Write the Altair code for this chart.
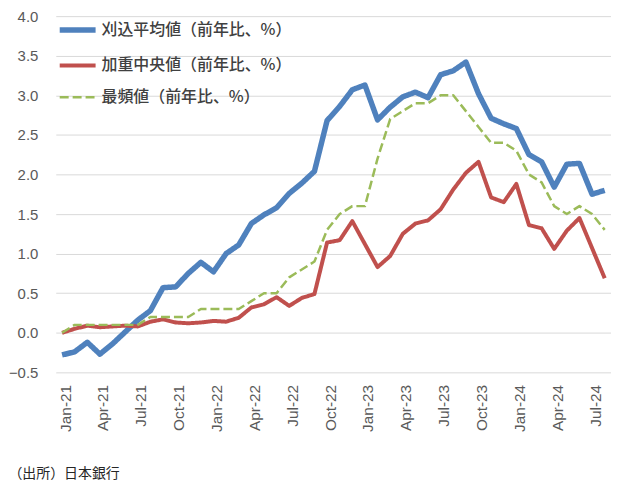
import altair as alt
import pandas as pd

months = [
    "Jan-21", "Feb-21", "Mar-21", "Apr-21", "May-21", "Jun-21", "Jul-21", "Aug-21", "Sep-21", "Oct-21", "Nov-21", "Dec-21",
    "Jan-22", "Feb-22", "Mar-22", "Apr-22", "May-22", "Jun-22", "Jul-22", "Aug-22", "Sep-22", "Oct-22", "Nov-22", "Dec-22",
    "Jan-23", "Feb-23", "Mar-23", "Apr-23", "May-23", "Jun-23", "Jul-23", "Aug-23", "Sep-23", "Oct-23", "Nov-23", "Dec-23",
    "Jan-24", "Feb-24", "Mar-24", "Apr-24", "May-24", "Jun-24", "Jul-24", "Aug-24",
]

trimmed_mean = [
    -0.28, -0.24, -0.12, -0.27, -0.14, 0.01, 0.16, 0.28, 0.57, 0.58, 0.75, 0.89,
    0.77, 1.00, 1.11, 1.38, 1.49, 1.58, 1.76, 1.89, 2.04, 2.68, 2.86, 3.07,
    3.13, 2.69, 2.85, 2.98, 3.04, 2.97, 3.26, 3.31, 3.42, 3.02, 2.71, 2.64,
    2.58, 2.25, 2.16, 1.84, 2.13, 2.14, 1.75, 1.80,
]

weighted_median = [
    0.00, 0.05, 0.09, 0.07, 0.08, 0.09, 0.08, 0.14, 0.17, 0.13, 0.12, 0.13,
    0.15, 0.14, 0.19, 0.32, 0.36, 0.45, 0.34, 0.44, 0.49, 1.14, 1.17, 1.41,
    1.12, 0.83, 0.97, 1.25, 1.38, 1.42, 1.56, 1.81, 2.02, 2.16, 1.71, 1.65,
    1.88, 1.36, 1.32, 1.06, 1.29, 1.45, 1.07, 0.69,
]

mode_value = [
    0.0, 0.1, 0.1, 0.1, 0.1, 0.1, 0.1, 0.2, 0.2, 0.2, 0.2, 0.3,
    0.3, 0.3, 0.3, 0.4, 0.5, 0.5, 0.7, 0.8, 0.9, 1.3, 1.5, 1.6,
    1.6, 2.2, 2.7, 2.8, 2.9, 2.9, 3.0, 3.0, 2.8, 2.6, 2.4, 2.4,
    2.3, 2.0, 1.9, 1.6, 1.5, 1.6, 1.5, 1.3,
]

series_names = ["刈込平均値（前年比、%）", "加重中央値（前年比、%）", "最頻値（前年比、%）"]
series_colors = ["#4F81BD", "#C0504D", "#9BBB59"]
series_dash = [[1, 0], [1, 0], [9, 4]]
series_width = [5.5, 2.5, 3]

x_tick_labels = months[::3]
y_ticks = [-0.5, 0.0, 0.5, 1.0, 1.5, 2.0, 2.5, 3.0, 3.5, 4.0]

rows = []
for name, vals in zip(series_names, [trimmed_mean, weighted_median, mode_value]):
    for m, v in zip(months, vals):
        rows.append({"month": m, "value": v, "series": name})
df = pd.DataFrame(rows)

legend = alt.Legend(
    title=None,
    orient="none",
    legendX=1,
    legendY=-7,
    symbolType="stroke",
    symbolSize=1300,
    labelFont="Noto Sans CJK JP",
    labelFontSize=16,
    labelFontWeight=500,
    labelColor="#404040",
    labelLimit=400,
    labelOffset=3,
    rowPadding=4,
    padding=0,
)

chart = alt.Chart(df).mark_line(strokeJoin="round").encode(
    x=alt.X(
        "month:O",
        sort=months,
        scale=alt.Scale(type="point", padding=0.5),
        title=None,
        axis=alt.Axis(
            values=x_tick_labels,
            labelAngle=270,
            labelFont="Liberation Sans",
            labelFontSize=15.5,
            labelColor="#595959",
            labelPadding=12,
            labelOffset=3,
            ticks=False,
            domain=False,
            grid=False,
        ),
    ),
    y=alt.Y(
        "value:Q",
        scale=alt.Scale(domain=[-0.5, 4.0], nice=False, zero=False),
        title=None,
        axis=alt.Axis(
            values=y_ticks,
            format=".1f",
            labelFont="Liberation Sans",
            labelFontSize=15,
            labelColor="#595959",
            labelPadding=18,
            ticks=False,
            domain=False,
            gridColor="#D9D9D9",
            gridWidth=1,
        ),
    ),
    color=alt.Color("series:N", scale=alt.Scale(domain=series_names, range=series_colors), legend=legend),
    strokeDash=alt.StrokeDash("series:N", scale=alt.Scale(domain=series_names, range=series_dash), legend=legend),
    strokeWidth=alt.StrokeWidth("series:N", scale=alt.Scale(domain=series_names, range=series_width), legend=legend),
).properties(
    width=558,
    height=358,
    padding={"left": 0, "top": 0, "right": 0, "bottom": 0},
    title=alt.TitleParams(
        "（出所）日本銀行",
        orient="bottom",
        anchor="start",
        font="Noto Sans CJK JP",
        fontSize=14,
        fontWeight="normal",
        color="#262626",
        offset=36,
    ),
).configure_view(stroke=None)

chart.save("out.html", embed_options={"renderer": "svg", "actions": False})
